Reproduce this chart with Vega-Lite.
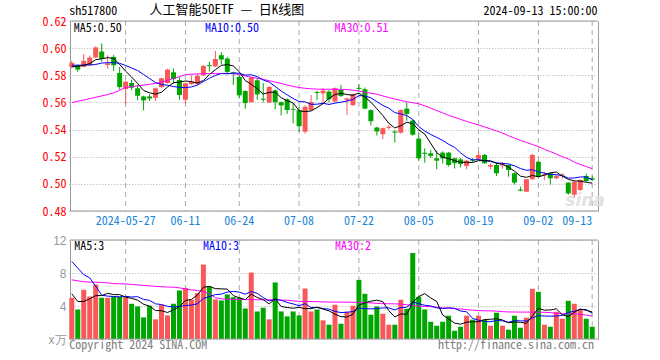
{
"$schema":"https://vega.github.io/schema/vega-lite/v6.json",
"width":528,"height":318,
"autosize":{"type":"none"},
"padding":{"left":70,"top":21,"right":62,"bottom":21},
"background":"#ffffff",
"config":{"view":{"stroke":null}},
"datasets":{"k":[
{"d":"2024-05-14","o":0.5862,"h":0.5905,"l":0.5850,"c":0.5891,"v":5.00,"m5":0.5862,"m10":0.5874,"m30":0.5598,"vm5":5.48,"vm10":9.40,"vm30":7.17},
{"d":"2024-05-15","o":0.5874,"h":0.5880,"l":0.5825,"c":0.5842,"v":3.58,"m5":0.5866,"m10":0.5874,"m30":0.5608,"vm5":4.55,"vm10":8.60,"vm30":7.05},
{"d":"2024-05-16","o":0.5862,"h":0.5956,"l":0.5858,"c":0.5906,"v":5.96,"m5":0.5874,"m10":0.5875,"m30":0.5618,"vm5":4.55,"vm10":7.80,"vm30":6.95},
{"d":"2024-05-17","o":0.5874,"h":0.5946,"l":0.5870,"c":0.5931,"v":5.15,"m5":0.5886,"m10":0.5876,"m30":0.5628,"vm5":4.87,"vm10":7.40,"vm30":6.89},
{"d":"2024-05-20","o":0.5931,"h":0.6012,"l":0.5928,"c":0.6005,"v":6.60,"m5":0.5915,"m10":0.5880,"m30":0.5638,"vm5":5.26,"vm10":6.40,"vm30":6.89},
{"d":"2024-05-21","o":0.5975,"h":0.6035,"l":0.5900,"c":0.5921,"v":5.00,"m5":0.5921,"m10":0.5890,"m30":0.5648,"vm5":5.26,"vm10":5.30,"vm30":6.85},
{"d":"2024-05-22","o":0.5876,"h":0.5948,"l":0.5849,"c":0.5888,"v":5.00,"m5":0.5930,"m10":0.5893,"m30":0.5658,"vm5":5.54,"vm10":5.20,"vm30":6.80},
{"d":"2024-05-23","o":0.5936,"h":0.5950,"l":0.5832,"c":0.5874,"v":5.15,"m5":0.5924,"m10":0.5893,"m30":0.5670,"vm5":5.38,"vm10":5.15,"vm30":6.72},
{"d":"2024-05-24","o":0.5817,"h":0.5862,"l":0.5694,"c":0.5713,"v":5.15,"m5":0.5880,"m10":0.5888,"m30":0.5690,"vm5":5.38,"vm10":5.10,"vm30":6.69},
{"d":"2024-05-27","o":0.5699,"h":0.5760,"l":0.5585,"c":0.5753,"v":5.07,"m5":0.5830,"m10":0.5872,"m30":0.5710,"vm5":5.07,"vm10":5.17,"vm30":6.67},
{"d":"2024-05-28","o":0.5743,"h":0.5768,"l":0.5690,"c":0.5709,"v":4.27,"m5":0.5787,"m10":0.5854,"m30":0.5716,"vm5":4.93,"vm10":5.09,"vm30":6.62},
{"d":"2024-05-29","o":0.5704,"h":0.5729,"l":0.5615,"c":0.5649,"v":3.95,"m5":0.5740,"m10":0.5835,"m30":0.5722,"vm5":4.72,"vm10":5.13,"vm30":6.56},
{"d":"2024-05-30","o":0.5644,"h":0.5650,"l":0.5541,"c":0.5615,"v":2.62,"m5":0.5688,"m10":0.5806,"m30":0.5728,"vm5":4.21,"vm10":4.80,"vm30":6.50},
{"d":"2024-05-31","o":0.5644,"h":0.5660,"l":0.5610,"c":0.5629,"v":4.03,"m5":0.5671,"m10":0.5776,"m30":0.5734,"vm5":3.99,"vm10":4.68,"vm30":6.44},
{"d":"2024-06-03","o":0.5634,"h":0.5710,"l":0.5610,"c":0.5704,"v":2.38,"m5":0.5661,"m10":0.5746,"m30":0.5740,"vm5":3.45,"vm10":4.26,"vm30":6.38},
{"d":"2024-06-04","o":0.5713,"h":0.5782,"l":0.5705,"c":0.5778,"v":4.15,"m5":0.5675,"m10":0.5731,"m30":0.5750,"vm5":3.43,"vm10":4.18,"vm30":6.34},
{"d":"2024-06-05","o":0.5743,"h":0.5848,"l":0.5740,"c":0.5842,"v":2.86,"m5":0.5714,"m10":0.5727,"m30":0.5763,"vm5":3.21,"vm10":3.96,"vm30":6.30},
{"d":"2024-06-06","o":0.5822,"h":0.5850,"l":0.5740,"c":0.5773,"v":4.27,"m5":0.5745,"m10":0.5717,"m30":0.5776,"vm5":3.54,"vm10":3.88,"vm30":6.28},
{"d":"2024-06-07","o":0.5765,"h":0.5787,"l":0.5620,"c":0.5655,"v":5.88,"m5":0.5750,"m10":0.5711,"m30":0.5790,"vm5":3.91,"vm10":3.95,"vm30":6.20},
{"d":"2024-06-11","o":0.5620,"h":0.5745,"l":0.5589,"c":0.5741,"v":6.20,"m5":0.5758,"m10":0.5710,"m30":0.5805,"vm5":4.67,"vm10":4.06,"vm30":6.05},
{"d":"2024-06-12","o":0.5735,"h":0.5800,"l":0.5730,"c":0.5752,"v":4.75,"m5":0.5753,"m10":0.5714,"m30":0.5808,"vm5":4.79,"vm10":4.11,"vm30":5.95},
{"d":"2024-06-13","o":0.5736,"h":0.5810,"l":0.5730,"c":0.5795,"v":5.56,"m5":0.5743,"m10":0.5728,"m30":0.5810,"vm5":5.33,"vm10":4.27,"vm30":5.88},
{"d":"2024-06-14","o":0.5800,"h":0.5875,"l":0.5795,"c":0.5869,"v":9.02,"m5":0.5762,"m10":0.5754,"m30":0.5812,"vm5":6.28,"vm10":4.91,"vm30":5.75},
{"d":"2024-06-17","o":0.5874,"h":0.5900,"l":0.5827,"c":0.5867,"v":6.36,"m5":0.5805,"m10":0.5778,"m30":0.5813,"vm5":6.38,"vm10":5.14,"vm30":5.50},
{"d":"2024-06-18","o":0.5866,"h":0.5980,"l":0.5862,"c":0.5920,"v":4.79,"m5":0.5841,"m10":0.5799,"m30":0.5814,"vm5":6.10,"vm10":5.38,"vm30":5.00},
{"d":"2024-06-19","o":0.5948,"h":0.5970,"l":0.5880,"c":0.5916,"v":4.67,"m5":0.5873,"m10":0.5813,"m30":0.5814,"vm5":6.08,"vm10":5.44,"vm30":4.87},
{"d":"2024-06-20","o":0.5923,"h":0.5935,"l":0.5807,"c":0.5825,"v":5.40,"m5":0.5879,"m10":0.5811,"m30":0.5814,"vm5":6.05,"vm10":5.69,"vm30":4.82},
{"d":"2024-06-21","o":0.5822,"h":0.5826,"l":0.5728,"c":0.5815,"v":5.07,"m5":0.5869,"m10":0.5816,"m30":0.5812,"vm5":5.26,"vm10":5.77,"vm30":4.80},
{"d":"2024-06-24","o":0.5788,"h":0.5800,"l":0.5630,"c":0.5652,"v":5.00,"m5":0.5826,"m10":0.5815,"m30":0.5805,"vm5":4.99,"vm10":5.68,"vm30":4.79},
{"d":"2024-06-25","o":0.5684,"h":0.5690,"l":0.5553,"c":0.5595,"v":3.70,"m5":0.5761,"m10":0.5801,"m30":0.5795,"vm5":4.77,"vm10":5.43,"vm30":4.78},
{"d":"2024-06-26","o":0.5602,"h":0.5790,"l":0.5598,"c":0.5783,"v":8.05,"m5":0.5734,"m10":0.5804,"m30":0.5785,"vm5":5.44,"vm10":5.76,"vm30":4.77},
{"d":"2024-06-27","o":0.5763,"h":0.5780,"l":0.5620,"c":0.5659,"v":3.34,"m5":0.5701,"m10":0.5790,"m30":0.5778,"vm5":5.03,"vm10":5.54,"vm30":4.76},
{"d":"2024-06-28","o":0.5627,"h":0.5743,"l":0.5600,"c":0.5620,"v":3.79,"m5":0.5662,"m10":0.5765,"m30":0.5770,"vm5":4.78,"vm10":5.02,"vm30":4.75},
{"d":"2024-07-01","o":0.5600,"h":0.5720,"l":0.5595,"c":0.5714,"v":2.38,"m5":0.5674,"m10":0.5750,"m30":0.5760,"vm5":4.25,"vm10":4.62,"vm30":4.75},
{"d":"2024-07-02","o":0.5689,"h":0.5695,"l":0.5550,"c":0.5602,"v":6.85,"m5":0.5676,"m10":0.5718,"m30":0.5750,"vm5":4.88,"vm10":4.83,"vm30":4.74},
{"d":"2024-07-03","o":0.5602,"h":0.5605,"l":0.5504,"c":0.5578,"v":3.34,"m5":0.5635,"m10":0.5684,"m30":0.5740,"vm5":3.94,"vm10":4.69,"vm30":4.72},
{"d":"2024-07-04","o":0.5623,"h":0.5630,"l":0.5515,"c":0.5544,"v":2.74,"m5":0.5612,"m10":0.5656,"m30":0.5728,"vm5":3.82,"vm10":4.43,"vm30":4.70},
{"d":"2024-07-05","o":0.5552,"h":0.5594,"l":0.5446,"c":0.5546,"v":3.34,"m5":0.5597,"m10":0.5629,"m30":0.5718,"vm5":3.73,"vm10":4.25,"vm30":4.62},
{"d":"2024-07-08","o":0.5543,"h":0.5567,"l":0.5384,"c":0.5425,"v":2.86,"m5":0.5539,"m10":0.5607,"m30":0.5710,"vm5":3.83,"vm10":4.04,"vm30":4.56},
{"d":"2024-07-09","o":0.5384,"h":0.5580,"l":0.5370,"c":0.5568,"v":6.12,"m5":0.5532,"m10":0.5604,"m30":0.5704,"vm5":3.68,"vm10":4.28,"vm30":4.55},
{"d":"2024-07-10","o":0.5543,"h":0.5655,"l":0.5540,"c":0.5603,"v":3.34,"m5":0.5537,"m10":0.5586,"m30":0.5700,"vm5":3.68,"vm10":3.81,"vm30":4.54},
{"d":"2024-07-11","o":0.5677,"h":0.5687,"l":0.5617,"c":0.5670,"v":3.58,"m5":0.5562,"m10":0.5587,"m30":0.5698,"vm5":3.85,"vm10":3.83,"vm30":4.52},
{"d":"2024-07-12","o":0.5667,"h":0.5705,"l":0.5595,"c":0.5687,"v":2.26,"m5":0.5591,"m10":0.5594,"m30":0.5697,"vm5":3.63,"vm10":3.68,"vm30":4.50},
{"d":"2024-07-15","o":0.5680,"h":0.5690,"l":0.5600,"c":0.5623,"v":1.73,"m5":0.5630,"m10":0.5585,"m30":0.5697,"vm5":3.41,"vm10":3.62,"vm30":4.48},
{"d":"2024-07-16","o":0.5607,"h":0.5710,"l":0.5603,"c":0.5705,"v":4.15,"m5":0.5658,"m10":0.5595,"m30":0.5697,"vm5":3.01,"vm10":3.35,"vm30":4.47},
{"d":"2024-07-17","o":0.5692,"h":0.5729,"l":0.5640,"c":0.5648,"v":1.85,"m5":0.5667,"m10":0.5602,"m30":0.5696,"vm5":2.71,"vm10":3.20,"vm30":4.47},
{"d":"2024-07-18","o":0.5617,"h":0.5635,"l":0.5507,"c":0.5629,"v":3.30,"m5":0.5658,"m10":0.5610,"m30":0.5695,"vm5":2.66,"vm10":3.25,"vm30":4.46},
{"d":"2024-07-19","o":0.5580,"h":0.5665,"l":0.5575,"c":0.5661,"v":4.03,"m5":0.5653,"m10":0.5622,"m30":0.5690,"vm5":3.01,"vm10":3.32,"vm30":4.45},
{"d":"2024-07-22","o":0.5707,"h":0.5733,"l":0.5681,"c":0.5700,"v":7.17,"m5":0.5669,"m10":0.5650,"m30":0.5684,"vm5":4.10,"vm10":3.75,"vm30":4.44},
{"d":"2024-07-23","o":0.5697,"h":0.5710,"l":0.5550,"c":0.5554,"v":5.48,"m5":0.5639,"m10":0.5648,"m30":0.5675,"vm5":4.37,"vm10":3.69,"vm30":4.42},
{"d":"2024-07-24","o":0.5543,"h":0.5548,"l":0.5430,"c":0.5462,"v":2.94,"m5":0.5602,"m10":0.5634,"m30":0.5668,"vm5":4.58,"vm10":3.65,"vm30":4.38},
{"d":"2024-07-25","o":0.5415,"h":0.5420,"l":0.5356,"c":0.5386,"v":3.95,"m5":0.5553,"m10":0.5606,"m30":0.5660,"vm5":4.71,"vm10":3.69,"vm30":4.32},
{"d":"2024-07-26","o":0.5366,"h":0.5415,"l":0.5329,"c":0.5410,"v":3.06,"m5":0.5503,"m10":0.5578,"m30":0.5648,"vm5":4.52,"vm10":3.77,"vm30":4.28},
{"d":"2024-07-29","o":0.5413,"h":0.5432,"l":0.5400,"c":0.5421,"v":1.73,"m5":0.5446,"m10":0.5558,"m30":0.5636,"vm5":3.43,"vm10":3.77,"vm30":4.27},
{"d":"2024-07-30","o":0.5386,"h":0.5395,"l":0.5305,"c":0.5378,"v":1.73,"m5":0.5412,"m10":0.5525,"m30":0.5625,"vm5":2.68,"vm10":3.52,"vm30":4.26},
{"d":"2024-07-31","o":0.5377,"h":0.5550,"l":0.5370,"c":0.5544,"v":4.75,"m5":0.5428,"m10":0.5515,"m30":0.5615,"vm5":3.04,"vm10":3.81,"vm30":4.22},
{"d":"2024-08-01","o":0.5554,"h":0.5600,"l":0.5466,"c":0.5515,"v":3.66,"m5":0.5454,"m10":0.5503,"m30":0.5605,"vm5":2.99,"vm10":3.85,"vm30":4.15},
{"d":"2024-08-02","o":0.5466,"h":0.5476,"l":0.5355,"c":0.5362,"v":10.43,"m5":0.5444,"m10":0.5474,"m30":0.5598,"vm5":4.46,"vm10":4.49,"vm30":4.05},
{"d":"2024-08-05","o":0.5333,"h":0.5372,"l":0.5170,"c":0.5188,"v":5.11,"m5":0.5398,"m10":0.5422,"m30":0.5590,"vm5":5.14,"vm10":4.28,"vm30":3.98},
{"d":"2024-08-06","o":0.5229,"h":0.5262,"l":0.5157,"c":0.5221,"v":3.58,"m5":0.5367,"m10":0.5389,"m30":0.5575,"vm5":5.51,"vm10":4.09,"vm30":3.95},
{"d":"2024-08-07","o":0.5225,"h":0.5250,"l":0.5190,"c":0.5206,"v":2.09,"m5":0.5299,"m10":0.5364,"m30":0.5558,"vm5":4.97,"vm10":4.01,"vm30":3.92},
{"d":"2024-08-08","o":0.5188,"h":0.5245,"l":0.5108,"c":0.5171,"v":1.61,"m5":0.5230,"m10":0.5342,"m30":0.5540,"vm5":4.56,"vm10":3.78,"vm30":3.85},
{"d":"2024-08-09","o":0.5230,"h":0.5240,"l":0.5150,"c":0.5188,"v":2.09,"m5":0.5196,"m10":0.5320,"m30":0.5523,"vm5":2.90,"vm10":3.68,"vm30":3.78},
{"d":"2024-08-12","o":0.5230,"h":0.5235,"l":0.5127,"c":0.5139,"v":2.82,"m5":0.5186,"m10":0.5292,"m30":0.5505,"vm5":2.44,"vm10":3.79,"vm30":3.72},
{"d":"2024-08-13","o":0.5188,"h":0.5195,"l":0.5113,"c":0.5152,"v":1.00,"m5":0.5171,"m10":0.5269,"m30":0.5490,"vm5":1.92,"vm10":3.71,"vm30":3.68},
{"d":"2024-08-14","o":0.5180,"h":0.5190,"l":0.5122,"c":0.5146,"v":1.49,"m5":0.5159,"m10":0.5229,"m30":0.5475,"vm5":1.80,"vm10":3.39,"vm30":3.64},
{"d":"2024-08-15","o":0.5132,"h":0.5175,"l":0.5108,"c":0.5171,"v":2.82,"m5":0.5159,"m10":0.5195,"m30":0.5460,"vm5":2.04,"vm10":3.30,"vm30":3.56},
{"d":"2024-08-16","o":0.5179,"h":0.5190,"l":0.5160,"c":0.5171,"v":2.34,"m5":0.5157,"m10":0.5176,"m30":0.5447,"vm5":2.09,"vm10":2.50,"vm30":3.50},
{"d":"2024-08-19","o":0.5181,"h":0.5238,"l":0.5178,"c":0.5213,"v":2.82,"m5":0.5171,"m10":0.5179,"m30":0.5434,"vm5":2.09,"vm10":2.27,"vm30":3.44},
{"d":"2024-08-20","o":0.5213,"h":0.5220,"l":0.5148,"c":0.5152,"v":2.34,"m5":0.5171,"m10":0.5171,"m30":0.5420,"vm5":2.36,"vm10":2.14,"vm30":3.42},
{"d":"2024-08-21","o":0.5127,"h":0.5150,"l":0.5110,"c":0.5139,"v":1.61,"m5":0.5170,"m10":0.5165,"m30":0.5405,"vm5":2.39,"vm10":2.09,"vm30":3.41},
{"d":"2024-08-22","o":0.5139,"h":0.5156,"l":0.5058,"c":0.5078,"v":3.18,"m5":0.5151,"m10":0.5155,"m30":0.5390,"vm5":2.46,"vm10":2.25,"vm30":3.38},
{"d":"2024-08-23","o":0.5135,"h":0.5162,"l":0.5112,"c":0.5143,"v":1.61,"m5":0.5145,"m10":0.5151,"m30":0.5375,"vm5":2.31,"vm10":2.20,"vm30":3.32},
{"d":"2024-08-26","o":0.5139,"h":0.5142,"l":0.5053,"c":0.5102,"v":1.13,"m5":0.5123,"m10":0.5147,"m30":0.5355,"vm5":1.97,"vm10":2.03,"vm30":3.28},
{"d":"2024-08-27","o":0.5078,"h":0.5083,"l":0.4995,"c":0.5009,"v":2.82,"m5":0.5094,"m10":0.5133,"m30":0.5338,"vm5":2.07,"vm10":2.22,"vm30":3.27},
{"d":"2024-08-28","o":0.4958,"h":0.4980,"l":0.4945,"c":0.4950,"v":1.37,"m5":0.5057,"m10":0.5113,"m30":0.5320,"vm5":2.02,"vm10":2.20,"vm30":3.26},
{"d":"2024-08-29","o":0.4942,"h":0.5036,"l":0.4940,"c":0.5034,"v":2.58,"m5":0.5048,"m10":0.5100,"m30":0.5305,"vm5":1.90,"vm10":2.18,"vm30":3.26},
{"d":"2024-08-30","o":0.5034,"h":0.5222,"l":0.5030,"c":0.5213,"v":6.08,"m5":0.5062,"m10":0.5104,"m30":0.5290,"vm5":2.80,"vm10":2.55,"vm30":3.26},
{"d":"2024-09-02","o":0.5163,"h":0.5170,"l":0.5050,"c":0.5053,"v":5.72,"m5":0.5052,"m10":0.5088,"m30":0.5275,"vm5":3.71,"vm10":2.84,"vm30":3.25},
{"d":"2024-09-03","o":0.5062,"h":0.5088,"l":0.5029,"c":0.5070,"v":1.73,"m5":0.5064,"m10":0.5079,"m30":0.5255,"vm5":3.50,"vm10":2.78,"vm30":3.24},
{"d":"2024-09-04","o":0.5078,"h":0.5082,"l":0.4995,"c":0.5041,"v":1.49,"m5":0.5082,"m10":0.5069,"m30":0.5238,"vm5":3.52,"vm10":2.77,"vm30":3.20},
{"d":"2024-09-05","o":0.5041,"h":0.5065,"l":0.5035,"c":0.5060,"v":3.30,"m5":0.5087,"m10":0.5068,"m30":0.5220,"vm5":3.66,"vm10":2.78,"vm30":3.12},
{"d":"2024-09-06","o":0.5061,"h":0.5080,"l":0.5040,"c":0.5069,"v":2.46,"m5":0.5057,"m10":0.5060,"m30":0.5200,"vm5":2.94,"vm10":2.87,"vm30":3.06},
{"d":"2024-09-09","o":0.5009,"h":0.5012,"l":0.4920,"c":0.4930,"v":4.63,"m5":0.5033,"m10":0.5043,"m30":0.5185,"vm5":2.72,"vm10":3.22,"vm30":3.06},
{"d":"2024-09-10","o":0.4920,"h":0.5020,"l":0.4900,"c":0.5016,"v":4.27,"m5":0.5022,"m10":0.5043,"m30":0.5160,"vm5":3.23,"vm10":3.36,"vm30":3.05},
{"d":"2024-09-11","o":0.4955,"h":0.5035,"l":0.4950,"c":0.5029,"v":3.54,"m5":0.5020,"m10":0.5051,"m30":0.5143,"vm5":3.64,"vm10":3.58,"vm30":3.00},
{"d":"2024-09-12","o":0.5058,"h":0.5075,"l":0.5015,"c":0.5021,"v":2.46,"m5":0.5012,"m10":0.5050,"m30":0.5127,"vm5":3.47,"vm10":3.57,"vm30":2.90},
{"d":"2024-09-13","o":0.5041,"h":0.5060,"l":0.5020,"c":0.5031,"v":1.49,"m5":0.5005,"m10":0.5031,"m30":0.5112,"vm5":3.28,"vm10":3.11,"vm30":2.78}
]},
"data":{"name":"k"},
"layer":[
{"layer":[
 {"data":{"values":[{}]},"mark":{"type":"text","text":"sina","align":"left","baseline":"alphabetic","dx":-3,"dy":-5,"font":"DejaVu Sans","fontStyle":"italic","fontWeight":"bold","fontSize":17,"color":"#e2e2e2"},
  "encoding":{"x":{"datum":"2024-09-09","type":"ordinal","scale":{"range":[-1.2,525.2],"paddingInner":0,"paddingOuter":0},"axis":{"orient":"bottom","offset":-128,"values":["2024-05-27","2024-06-11","2024-06-24","2024-07-08","2024-07-22","2024-08-05","2024-08-19","2024-09-02","2024-09-13"],"labelExpr":"datum.value == '2024-05-27' ? datum.value : slice(datum.value, 5)","labelAngle":0,"labelColor":"#1a86d8","labelFont":"Noto Sans Mono CJK SC, DejaVu Sans Mono, monospace","labelFontSize":12,"labelPadding":4,"labelOverlap":false,"labelAlign":{"condition":{"test":"datum.value == '2024-09-13'","value":"right"},"value":"center"},"ticks":false,"domain":false,"grid":false,"title":null}},
  "y":{"datum":0.48,"type":"quantitative","scale":{"domain":[0.48,0.62],"range":[190,0],"nice":false,"zero":false},"axis":{"orient":"left","values":[0.48,0.5,0.52,0.54,0.56,0.58,0.6,0.62],"format":".2f","labelColor":"#ff0000","labelFont":"Noto Sans Mono CJK SC, DejaVu Sans Mono, monospace","labelFontSize":12,"labelPadding":4,"ticks":false,"grid":true,"gridColor":"#b0b0b0","gridDash":[1,2],"domainColor":"#999999","title":null}}}},
 {"transform":[{"filter":{"field":"d","oneOf":["2024-05-27","2024-06-11","2024-06-24","2024-07-08","2024-07-22","2024-08-05","2024-08-19","2024-09-02","2024-09-13"]}}],
  "mark":{"type":"rule","color":"#aaaaaa","strokeDash":[5,4],"strokeWidth":1},
  "encoding":{"x":{"field":"d","type":"ordinal","scale":{"range":[-1.2,525.2],"paddingInner":0,"paddingOuter":0},"axis":{"orient":"bottom","offset":-128,"values":["2024-05-27","2024-06-11","2024-06-24","2024-07-08","2024-07-22","2024-08-05","2024-08-19","2024-09-02","2024-09-13"],"labelExpr":"datum.value == '2024-05-27' ? datum.value : slice(datum.value, 5)","labelAngle":0,"labelColor":"#1a86d8","labelFont":"Noto Sans Mono CJK SC, DejaVu Sans Mono, monospace","labelFontSize":12,"labelPadding":4,"labelOverlap":false,"labelAlign":{"condition":{"test":"datum.value == '2024-09-13'","value":"right"},"value":"center"},"ticks":false,"domain":false,"grid":false,"title":null}},
  "y":{"datum":0.62,"type":"quantitative","scale":{"domain":[0.48,0.62],"range":[190,0],"nice":false,"zero":false},"axis":{"orient":"left","values":[0.48,0.5,0.52,0.54,0.56,0.58,0.6,0.62],"format":".2f","labelColor":"#ff0000","labelFont":"Noto Sans Mono CJK SC, DejaVu Sans Mono, monospace","labelFontSize":12,"labelPadding":4,"ticks":false,"grid":true,"gridColor":"#b0b0b0","gridDash":[1,2],"domainColor":"#999999","title":null}},
  "y2":{"datum":0.48}}},
 {"mark":{"type":"rule","strokeWidth":1},
  "encoding":{"x":{"field":"d","type":"ordinal","scale":{"range":[-1.2,525.2],"paddingInner":0,"paddingOuter":0},"axis":{"orient":"bottom","offset":-128,"values":["2024-05-27","2024-06-11","2024-06-24","2024-07-08","2024-07-22","2024-08-05","2024-08-19","2024-09-02","2024-09-13"],"labelExpr":"datum.value == '2024-05-27' ? datum.value : slice(datum.value, 5)","labelAngle":0,"labelColor":"#1a86d8","labelFont":"Noto Sans Mono CJK SC, DejaVu Sans Mono, monospace","labelFontSize":12,"labelPadding":4,"labelOverlap":false,"labelAlign":{"condition":{"test":"datum.value == '2024-09-13'","value":"right"},"value":"center"},"ticks":false,"domain":false,"grid":false,"title":null}},
  "y":{"field":"l","type":"quantitative","scale":{"domain":[0.48,0.62],"range":[190,0],"nice":false,"zero":false},"axis":{"orient":"left","values":[0.48,0.5,0.52,0.54,0.56,0.58,0.6,0.62],"format":".2f","labelColor":"#ff0000","labelFont":"Noto Sans Mono CJK SC, DejaVu Sans Mono, monospace","labelFontSize":12,"labelPadding":4,"ticks":false,"grid":true,"gridColor":"#b0b0b0","gridDash":[1,2],"domainColor":"#999999","title":null}},
  "y2":{"field":"h"},
  "color":{"condition":{"test":"datum.c >= datum.o","value":"#f85858"},"value":"#00a600"}}},
 {"mark":{"type":"bar","width":5},
  "encoding":{"x":{"field":"d","type":"ordinal","scale":{"range":[-1.2,525.2],"paddingInner":0,"paddingOuter":0},"axis":{"orient":"bottom","offset":-128,"values":["2024-05-27","2024-06-11","2024-06-24","2024-07-08","2024-07-22","2024-08-05","2024-08-19","2024-09-02","2024-09-13"],"labelExpr":"datum.value == '2024-05-27' ? datum.value : slice(datum.value, 5)","labelAngle":0,"labelColor":"#1a86d8","labelFont":"Noto Sans Mono CJK SC, DejaVu Sans Mono, monospace","labelFontSize":12,"labelPadding":4,"labelOverlap":false,"labelAlign":{"condition":{"test":"datum.value == '2024-09-13'","value":"right"},"value":"center"},"ticks":false,"domain":false,"grid":false,"title":null}},
  "y":{"field":"o","type":"quantitative","scale":{"domain":[0.48,0.62],"range":[190,0],"nice":false,"zero":false},"axis":{"orient":"left","values":[0.48,0.5,0.52,0.54,0.56,0.58,0.6,0.62],"format":".2f","labelColor":"#ff0000","labelFont":"Noto Sans Mono CJK SC, DejaVu Sans Mono, monospace","labelFontSize":12,"labelPadding":4,"ticks":false,"grid":true,"gridColor":"#b0b0b0","gridDash":[1,2],"domainColor":"#999999","title":null}},
  "y2":{"field":"c"},
  "color":{"condition":{"test":"datum.c >= datum.o","value":"#f85858"},"value":"#00a600"}}},
 {"transform":[{"fold":["m30","m10","m5"],"as":["key","val"]}],
  "mark":{"type":"line","strokeWidth":1},
  "encoding":{"x":{"field":"d","type":"ordinal","scale":{"range":[-1.2,525.2],"paddingInner":0,"paddingOuter":0},"axis":{"orient":"bottom","offset":-128,"values":["2024-05-27","2024-06-11","2024-06-24","2024-07-08","2024-07-22","2024-08-05","2024-08-19","2024-09-02","2024-09-13"],"labelExpr":"datum.value == '2024-05-27' ? datum.value : slice(datum.value, 5)","labelAngle":0,"labelColor":"#1a86d8","labelFont":"Noto Sans Mono CJK SC, DejaVu Sans Mono, monospace","labelFontSize":12,"labelPadding":4,"labelOverlap":false,"labelAlign":{"condition":{"test":"datum.value == '2024-09-13'","value":"right"},"value":"center"},"ticks":false,"domain":false,"grid":false,"title":null}},
  "y":{"field":"val","type":"quantitative","scale":{"domain":[0.48,0.62],"range":[190,0],"nice":false,"zero":false},"axis":{"orient":"left","values":[0.48,0.5,0.52,0.54,0.56,0.58,0.6,0.62],"format":".2f","labelColor":"#ff0000","labelFont":"Noto Sans Mono CJK SC, DejaVu Sans Mono, monospace","labelFontSize":12,"labelPadding":4,"ticks":false,"grid":true,"gridColor":"#b0b0b0","gridDash":[1,2],"domainColor":"#999999","title":null}},
  "color":{"field":"key","type":"nominal","scale":{"domain":["m5","m10","m30","vm5","vm10","vm30"],"range":["#000000","#0000ff","#ff00ff","#000000","#0000ff","#ff00ff"]},"legend":null}}},
 {"data":{"values":[{}]},"mark":{"type":"text","text":"MA5:0.50","align":"left","baseline":"middle","dx":2,"dy":7,"font":"Noto Sans Mono CJK SC, DejaVu Sans Mono, monospace","fontSize":12,"color":"#000000"},
  "encoding":{"x":{"datum":"2024-05-14","type":"ordinal"},"y":{"datum":0.62,"type":"quantitative"}}},
 {"data":{"values":[{}]},"mark":{"type":"text","text":"MA10:0.50","align":"left","baseline":"middle","dx":1.5,"dy":7,"font":"Noto Sans Mono CJK SC, DejaVu Sans Mono, monospace","fontSize":12,"color":"#0000ff"},
  "encoding":{"x":{"datum":"2024-06-14","type":"ordinal"},"y":{"datum":0.62,"type":"quantitative"}}},
 {"data":{"values":[{}]},"mark":{"type":"text","text":"MA30:0.51","align":"left","baseline":"middle","dx":-0.5,"dy":7,"font":"Noto Sans Mono CJK SC, DejaVu Sans Mono, monospace","fontSize":12,"color":"#ff00ff"},
  "encoding":{"x":{"datum":"2024-07-16","type":"ordinal"},"y":{"datum":0.62,"type":"quantitative"}}},
 {"data":{"values":[{}]},"mark":{"type":"text","text":"sh517800","align":"left","baseline":"middle","dx":-2.5,"dy":-10,"font":"Noto Sans Mono CJK SC, DejaVu Sans Mono, monospace","fontSize":12,"color":"#000000"},
  "encoding":{"x":{"datum":"2024-05-14","type":"ordinal"},"y":{"datum":0.62,"type":"quantitative"}}},
 {"data":{"values":[{}]},"mark":{"type":"text","text":"人工智能50ETF — 日K线图","align":"left","baseline":"middle","dx":0,"dy":-11,"font":"Noto Sans Mono CJK SC, Noto Sans CJK SC, monospace","fontSize":13,"color":"#000000"},
  "encoding":{"x":{"datum":"2024-05-31","type":"ordinal"},"y":{"datum":0.62,"type":"quantitative"}}},
 {"data":{"values":[{}]},"mark":{"type":"text","text":"2024-09-13 15:00:00","align":"right","baseline":"middle","dx":5.4,"dy":-10,"font":"Noto Sans Mono CJK SC, DejaVu Sans Mono, monospace","fontSize":12,"color":"#000000"},
  "encoding":{"x":{"datum":"2024-09-13","type":"ordinal"},"y":{"datum":0.62,"type":"quantitative"}}}
]},
{"layer":[
 {"transform":[{"filter":{"field":"d","oneOf":["2024-05-27","2024-06-11","2024-06-24","2024-07-08","2024-07-22","2024-08-05","2024-08-19","2024-09-02","2024-09-13"]}}],
  "mark":{"type":"rule","color":"#aaaaaa","strokeDash":[5,4],"strokeWidth":1},
  "encoding":{"x":{"field":"d","type":"ordinal"},
  "y":{"datum":12,"type":"quantitative","scale":{"domain":[0,12],"range":[318,219],"nice":false,"zero":true},"axis":{"orient":"left","values":[0,4,8,12],"labelExpr":"datum.value == 0 ? 'x万' : datum.label","labelColor":"#999999","labelFont":"Liberation Sans","labelFontSize":12,"labelPadding":4,"ticks":false,"grid":true,"gridColor":"#b0b0b0","gridDash":[1,2],"domainColor":"#999999","title":null}},
  "y2":{"datum":0}}},
 {"mark":{"type":"bar","width":5},
  "encoding":{"x":{"field":"d","type":"ordinal"},
  "y":{"field":"v","type":"quantitative","scale":{"domain":[0,12],"range":[318,219],"nice":false,"zero":true},"axis":{"orient":"left","values":[0,4,8,12],"labelExpr":"datum.value == 0 ? 'x万' : datum.label","labelColor":"#999999","labelFont":"Liberation Sans","labelFontSize":12,"labelPadding":4,"ticks":false,"grid":true,"gridColor":"#b0b0b0","gridDash":[1,2],"domainColor":"#999999","title":null}},
  "color":{"condition":{"test":"datum.c >= datum.o","value":"#f85858"},"value":"#00a600"}}},
 {"transform":[{"fold":["vm30","vm10","vm5"],"as":["key","val"]}],
  "mark":{"type":"line","strokeWidth":1},
  "encoding":{"x":{"field":"d","type":"ordinal"},
  "y":{"field":"val","type":"quantitative","scale":{"domain":[0,12],"range":[318,219],"nice":false,"zero":true},"axis":{"orient":"left","values":[0,4,8,12],"labelExpr":"datum.value == 0 ? 'x万' : datum.label","labelColor":"#999999","labelFont":"Liberation Sans","labelFontSize":12,"labelPadding":4,"ticks":false,"grid":true,"gridColor":"#b0b0b0","gridDash":[1,2],"domainColor":"#999999","title":null}},
  "color":{"field":"key","type":"nominal","scale":{"domain":["m5","m10","m30","vm5","vm10","vm30"],"range":["#000000","#0000ff","#ff00ff","#000000","#0000ff","#ff00ff"]},"legend":null}}},
 {"data":{"values":[{}]},"mark":{"type":"text","text":"MA5:3","align":"left","baseline":"middle","dx":2.5,"dy":6,"font":"Noto Sans Mono CJK SC, DejaVu Sans Mono, monospace","fontSize":12,"color":"#000000"},
  "encoding":{"x":{"datum":"2024-05-14","type":"ordinal"},"y":{"datum":12,"type":"quantitative"}}},
 {"data":{"values":[{}]},"mark":{"type":"text","text":"MA10:3","align":"left","baseline":"middle","dx":-0.4,"dy":6,"font":"Noto Sans Mono CJK SC, DejaVu Sans Mono, monospace","fontSize":12,"color":"#0000ff"},
  "encoding":{"x":{"datum":"2024-06-14","type":"ordinal"},"y":{"datum":12,"type":"quantitative"}}},
 {"data":{"values":[{}]},"mark":{"type":"text","text":"MA30:2","align":"left","baseline":"middle","dx":0,"dy":6,"font":"Noto Sans Mono CJK SC, DejaVu Sans Mono, monospace","fontSize":12,"color":"#ff00ff"},
  "encoding":{"x":{"datum":"2024-07-16","type":"ordinal"},"y":{"datum":12,"type":"quantitative"}}},
 {"data":{"values":[{}]},"mark":{"type":"text","text":"Copyright 2024 SINA.COM","align":"left","baseline":"middle","dx":-2.5,"dy":6,"font":"Noto Sans Mono CJK SC, DejaVu Sans Mono, monospace","fontSize":12,"color":"#808080"},
  "encoding":{"x":{"datum":"2024-05-14","type":"ordinal"},"y":{"datum":0,"type":"quantitative"}}},
 {"data":{"values":[{}]},"mark":{"type":"text","text":"http://finance.sina.com.cn","align":"right","baseline":"middle","dx":1.8,"dy":6,"font":"Noto Sans Mono CJK SC, DejaVu Sans Mono, monospace","fontSize":12,"color":"#808080"},
  "encoding":{"x":{"datum":"2024-09-13","type":"ordinal"},"y":{"datum":0,"type":"quantitative"}}}
]},
{"data":{"values":[{"p":0.62},{"p":0.48}]},"mark":{"type":"rule","color":"#999999","strokeWidth":1},
 "encoding":{"y":{"field":"p","type":"quantitative","scale":{"domain":[0.48,0.62],"range":[190,0],"nice":false,"zero":false},"axis":{"orient":"right","labels":false,"ticks":false,"grid":false,"domainColor":"#999999","title":null}}}},
{"data":{"values":[{"p":12},{"p":0}]},"mark":{"type":"rule","color":"#999999","strokeWidth":1},
 "encoding":{"y":{"field":"p","type":"quantitative","scale":{"domain":[0,12],"range":[318,219],"nice":false,"zero":true},"axis":{"orient":"right","labels":false,"ticks":false,"grid":false,"domainColor":"#999999","title":null}}}}
],
"resolve":{"scale":{"y":"independent"},"axis":{"y":"independent"}}
}
